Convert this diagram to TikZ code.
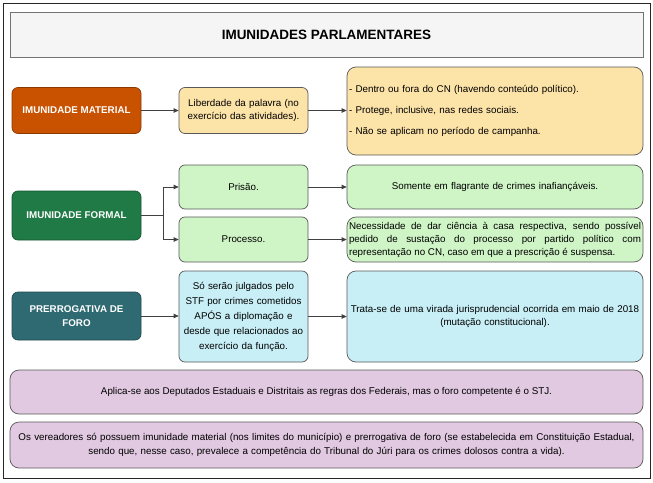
\documentclass[tikz,border=0pt]{standalone}
\usepackage{fontspec}
\setmainfont{Liberation Sans}
\usetikzlibrary{arrows.meta}

\begin{document}
\begin{tikzpicture}
          [x=1pt, y=-1pt, font=\fontsize{9.8}{11.5}\selectfont,
           box/.style = {draw=black!65, rounded corners=6pt, align=center, inner sep=1pt, line width=0.7pt},
           head/.style = {box, text=white, font=\fontsize{9.8}{14}\selectfont\bfseries, minimum width=129, minimum height=46},
           mid/.style = {box, minimum width=129, text width=127},
           info/.style = {box, rounded corners=9pt, minimum width=296, text width=292},
           wide/.style = {box, rounded corners=9pt, fill=notecolor, minimum width=633, minimum height=44},
           link/.style = {draw=black!75, line width=0.7pt, -{Triangle[length=5pt,width=4.5pt]}}]

% Define row colors
\definecolor{matcolor}{HTML}{C85200}
\definecolor{matlight}{HTML}{FCE3A8}
\definecolor{formcolor}{HTML}{1F7A46}
\definecolor{formlight}{HTML}{CFF5C6}
\definecolor{forocolor}{HTML}{2F6A73}
\definecolor{forolight}{HTML}{C8EEF6}
\definecolor{notecolor}{HTML}{E1C9E1}

\useasboundingbox (0,0) rectangle (653,482);
\draw [black!85, line width=0.8pt] (3,3) rectangle (650,478);

% Title
\node [draw=black!55, fill=black!4, minimum width=633, minimum height=45, font=\fontsize{13.5}{15}\selectfont\bfseries](title) at (326.5,34.5) {IMUNIDADES PARLAMENTARES};

% Material
\node [head, fill=matcolor, draw=matcolor!70!black](mat) at (76.5,110.5) {IMUNIDADE MATERIAL};
\node [mid, fill=matlight, minimum height=46, font=\fontsize{9.8}{13}\selectfont](lib) at (243.5,110.5) {Liberdade da palavra (no\\exerc\'icio das atividades).};
\node [info, fill=matlight, minimum height=88, align=left](matinfo) at (495,111)
      {- Dentro ou fora do CN (havendo conte\'udo pol\'itico).\\[9.5pt]- Protege, inclusive, nas redes sociais.\\[9.5pt]- N\~ao se aplicam no per\'iodo de campanha.};

% Formal
\node [head, fill=formcolor, draw=formcolor!70!black, minimum height=49](form) at (76.5,215.5) {IMUNIDADE FORMAL};
\node [mid, fill=formlight, minimum height=44](pris) at (243.5,187) {Pris\~ao.};
\node [info, fill=formlight, minimum height=44, align=center](prisinfo) at (495,187) {Somente em flagrante de crimes inafian\c{c}\'aveis.};
\node [mid, fill=formlight, minimum height=45](proc) at (243.5,239.5) {Processo.};
\node [info, fill=formlight, minimum height=45, align=justify, font=\fontsize{9.8}{13}\selectfont](procinfo) at (495,239.5)
      {Necessidade de dar ci\^encia \`a casa respectiva, sendo poss\'ivel\linebreak pedido de susta\c{c}\~ao do processo por partido pol\'itico com\linebreak representa\c{c}\~ao no CN, caso em que a prescri\c{c}\~ao \'e suspensa.};
\coordinate (branch) at (163,215.5);

% Foro
\node [head, fill=forocolor, draw=forocolor!70!black, minimum height=48](foro) at (76.5,316) {PRERROGATIVA DE\\FORO};
\node [mid, fill=forolight, minimum height=91, font=\fontsize{9.8}{15}\selectfont](stf) at (243.5,316.5)
      {S\'o ser\~ao julgados pelo\\STF por crimes cometidos\\AP\'OS a diploma\c{c}\~ao e\\desde que relacionados ao\\exerc\'icio da fun\c{c}\~ao.};
\node [info, fill=forolight, minimum height=91, font=\fontsize{9.8}{13}\selectfont](trata) at (495,316.5)
      {Trata-se de uma virada jurisprudencial ocorrida em maio de 2018\\(muta\c{c}\~ao constitucional).};

% Notes
\node [wide](apl) at (326.5,392) {Aplica-se aos Deputados Estaduais e Distritais as regras dos Federais, mas o foro competente \'e o STJ.};
\node [wide, minimum height=46, text width=631, font=\fontsize{9.8}{14}\selectfont](ver) at (326.5,445)
      {Os vereadores s\'o possuem imunidade material (nos limites do munic\'ipio) e prerrogativa de foro (se estabelecida em Constitui\c{c}\~ao Estadual,\\sendo que, nesse caso, prevalece a compet\^encia do Tribunal do J\'uri para os crimes dolosos contra a vida).};

% Connections
\draw [link] (mat) -- (lib);
\draw [link] (lib.east) -- (lib.east -| matinfo.west);
\draw [link] (form.east) -- (branch) |- (pris.west);
\draw [link] (branch) |- (proc.west);
\draw [link] (pris) -- (prisinfo);
\draw [link] (proc) -- (procinfo);
\draw [link] (foro.east) -- (foro.east -| stf.west);
\draw [link] (stf) -- (trata);

\end{tikzpicture}
\end{document}
